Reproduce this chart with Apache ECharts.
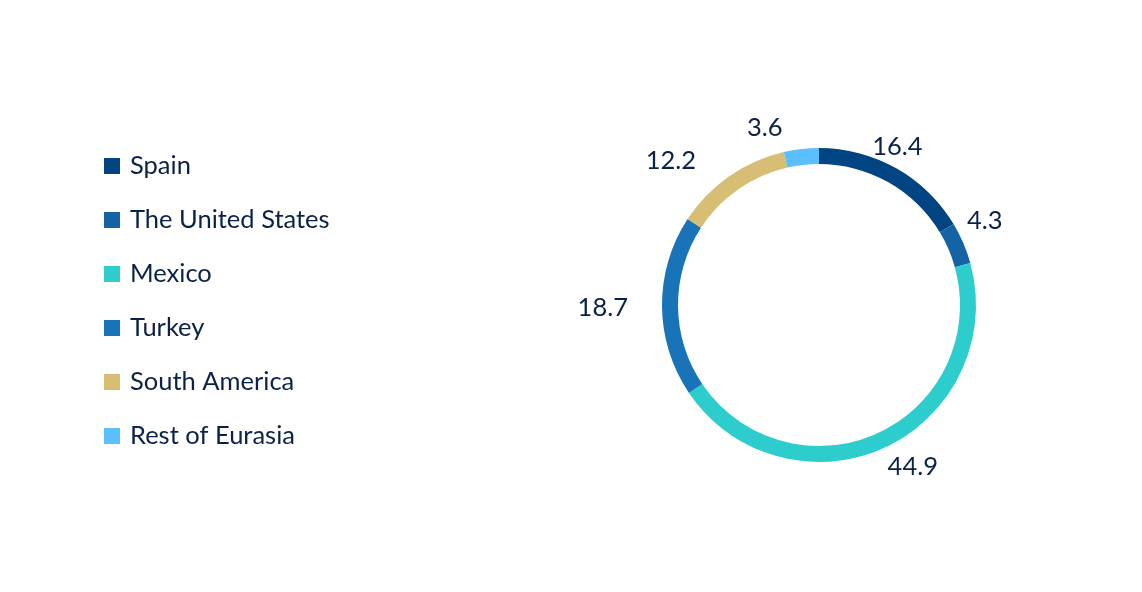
<!DOCTYPE html>
<html><head><meta charset="utf-8">
<script src="https://cdn.jsdelivr.net/npm/echarts@6/dist/echarts.min.js"></script>
<style>html,body{margin:0;padding:0;background:#fff}#c{width:1142px;height:592px}</style>
</head><body><div id="c"></div>
<script>
const categories = ['Spain', 'The United States', 'Mexico', 'Turkey', 'South America', 'Rest of Eurasia'];
const values = [16.4, 4.3, 44.9, 18.7, 12.2, 3.6];
const colors = ['#004481', '#1464A5', '#2DCCCD', '#1973B8', '#D8BE75', '#5BBEFF'];

// fine label nudges (styling only)
const labelNudges = [[-37, -8], [-16, -16], [-9, 5], [-13, 1], [-19, -2], [-12, -5]];

const chart = echarts.init(document.getElementById('c'), null, {renderer: 'canvas'});
const txt = '#0A2148';
const fs = 25.5;
chart.setOption({
  animation: false,
  color: colors,
  legend: {
    orient: 'vertical', left: 99, top: 148,
    itemWidth: 16, itemHeight: 16, itemGap: 28,
    icon: 'rect',
    textStyle: {fontFamily: 'Lato', fontSize: fs, color: txt, lineHeight: 22, padding: [0, 0, 0, 5]},
    data: categories
  },
  series: [{
    type: 'pie',
    center: [819, 305],
    radius: [141, 157],
    startAngle: 90,
    clockwise: true,
    silent: true,
    label: {show: true, position: 'outside', fontFamily: 'Lato', fontSize: fs, color: txt, formatter: p => p.value.toFixed(1)},
    labelLine: {show: false, length: 16, length2: 0},
    data: categories.map((n, i) => ({name: n, value: values[i], label: {offset: labelNudges[i]}}))
  }]
});
</script></body></html>
